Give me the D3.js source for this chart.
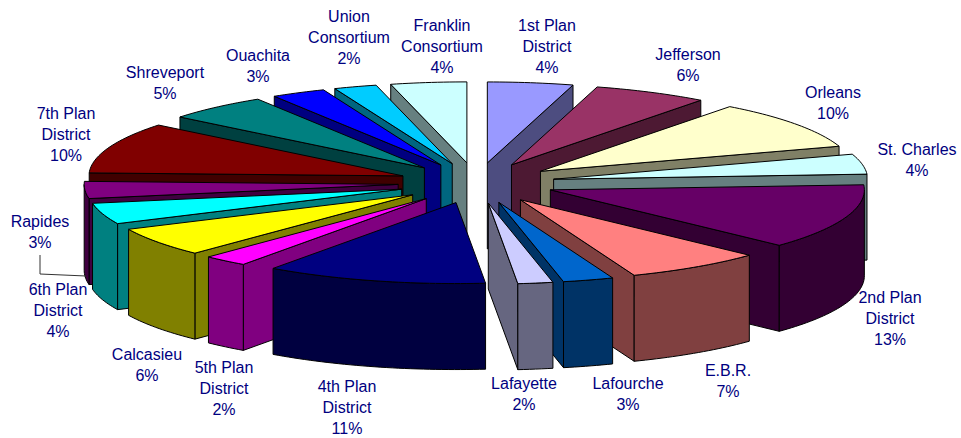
<!DOCTYPE html>
<html><head><meta charset="utf-8">
<script src="https://cdn.jsdelivr.net/npm/d3@7"></script>
<style>html,body{margin:0;padding:0;background:#fff}svg{display:block}</style>
</head><body><div id="c"></div>
<script>
const categories = [["1st Plan","District"],["Jefferson"],["Orleans"],["St. Charles"],["2nd Plan","District"],["E.B.R."],["Lafourche"],["Lafayette"],["4th Plan","District"],["5th Plan","District"],["Calcasieu"],["6th Plan","District"],["Rapides"],["7th Plan","District"],["Shreveport"],["Ouachita"],["Union","Consortium"],["Franklin","Consortium"]];
const values = [4.4,5.9,9.7,4,13,7.1,2.6,1.8,11.4,2.3,5.8,4.2,3.4,10.2,5.3,2.8,2.2,3.9];
const topColors = ["#9999FF","#993366","#FFFFCC","#CCFFFF","#660066","#FF8080","#0066CC","#CCCCFF","#000080","#FF00FF","#FFFF00","#00FFFF","#800080","#800000","#008080","#0000FF","#00CCFF","#CCFFFF"];
const sideColors = ["#4D4D80","#4D1933","#808066","#668080","#330033","#804040","#003366","#666680","#000040","#800080","#808000","#008080","#400040","#400000","#004040","#000080","#006680","#668080"];
const labelAnchors = [[547,25],[688,54],[833,92],[917,149],[890,297],[728,370],[628,383],[524,383],[347,386],[224,367],[147,354],[58,289],[40,221],[66,113],[165,72],[258,55],[349,16],[442,25]];

const W = 961, H = 438, depth = 86, explode = 0.25;
const svg = d3.select("#c").append("svg").attr("width",W).attr("height",H).attr("viewBox",`0 0 ${W} ${H}`);
const x = d3.scaleLinear().domain([-1,1]).range([476.5-314,476.5+314]);
const y = d3.scaleLinear().domain([-1,1]).range([183-81,183+81]);
const line = d3.line().x(d=>x(d[0])).y(d=>y(d[1])+(d[2]||0));
const arcs = d3.pie().value(d=>d).sort(null).startAngle(0).endAngle(2*Math.PI)(values);

const slices = arcs.map((a,i)=>{
  const m=(a.startAngle+a.endAngle)/2;
  return {i,a0:a.startAngle,a1:a.endAngle,m,ax:explode*Math.sin(m),ay:-explode*Math.cos(m)};
}).sort((p,q)=>Math.cos(q.m)-Math.cos(p.m));

const rim=(s,from,to)=>{
  const n=Math.max(2,Math.ceil((to-from)/0.02));
  return d3.range(n+1).map(k=>{const t=from+(to-from)*k/n;return [s.ax+Math.sin(t),s.ay-Math.cos(t)];});
};
const g = svg.append("g").attr("stroke","#000").attr("stroke-width",1).attr("stroke-linejoin","round");
slices.forEach(s=>{
  const side=sideColors[s.i], apex=[s.ax,s.ay];
  const wall=t=>{
    const p=[s.ax+Math.sin(t),s.ay-Math.cos(t)];
    g.append("path").attr("fill",side).attr("d",line([apex,p,[p[0],p[1],depth],[apex[0],apex[1],depth]])+"Z");
  };
  if(Math.sin(s.a0)<0) wall(s.a0);
  if(Math.sin(s.a1)>0) wall(s.a1);
  const lo=Math.max(s.a0,Math.PI/2), hi=Math.min(s.a1,3*Math.PI/2);
  if(hi>lo){
    const r=rim(s,lo,hi);
    g.append("path").attr("fill",side).attr("d",line(r.concat(r.slice().reverse().map(p=>[p[0],p[1],depth])))+"Z");
  }
  g.append("path").attr("fill",topColors[s.i]).attr("d",line([apex].concat(rim(s,s.a0,s.a1)))+"Z");
});

// Rapides leader line
svg.append("path").attr("fill","none").attr("stroke","#333").attr("stroke-width",1)
  .attr("d",d3.line()([[40,255],[40,274],[86,276]]));

const lh=21.2;
categories.forEach((lines,i)=>{
  const pct=Math.round(values[i])+"%";
  const t=svg.append("text").attr("text-anchor","middle").attr("fill","#000080")
    .attr("font-family","'Liberation Sans',Arial,sans-serif").attr("font-size",16);
  lines.concat([pct]).forEach((str,k)=>{
    t.append("tspan").attr("x",labelAnchors[i][0]).attr("y",labelAnchors[i][1]+k*lh+6).text(str);
  });
});
</script></body></html>
